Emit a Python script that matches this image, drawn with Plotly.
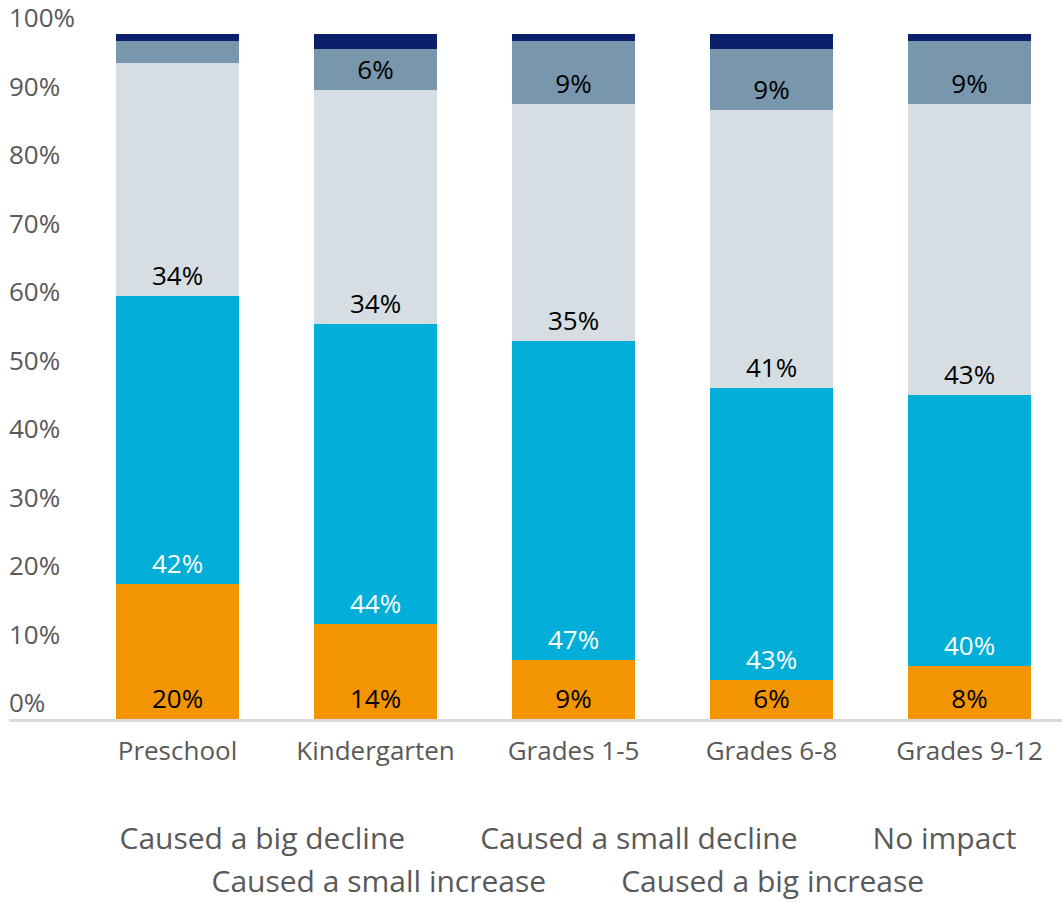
import math
import plotly.graph_objects as go

# Share of respondents by school level (percent, stacked to 100)
levels = ["Preschool", "Kindergarten", "Grades 1-5", "Grades 6-8", "Grades 9-12"]
big_decline = [19.7, 13.9, 8.6, 5.7, 7.7]
small_decline = [42.0, 43.8, 46.6, 42.6, 39.6]
no_impact = [34.1, 34.1, 34.6, 40.6, 42.5]
small_increase = [3.2, 6.0, 9.2, 8.9, 9.2]
big_increase = [1.0, 2.2, 1.0, 2.2, 1.0]

y_ticks = [0, 10, 20, 30, 40, 50, 60, 70, 80, 90, 100]

FONT = "Open Sans"
LABEL_SIZE = 26


def pct(v, min_show=0.0):
    return f"{math.floor(v + 0.5)}%" if v >= min_show else ""


series = [
    ("Caused a big decline", big_decline, "#F29500", "#000000", 0, "legend"),
    ("Caused a small decline", small_decline, "#00AED8", "#FFFFFF", 0, "legend"),
    ("No impact", no_impact, "#D6DEE4", "#000000", 0, "legend"),
    ("Caused a small increase", small_increase, "#7896AC", "#000000", 5, "legend2"),
    ("Caused a big increase", big_increase, "#0B1F6B", "#000000", 101, "legend2"),
]

fig = go.Figure()
for name, vals, color, tcolor, min_show, leg in series:
    fig.add_trace(go.Bar(
        x=levels, y=vals, name=name, showlegend=False,
        marker=dict(color=color, line=dict(width=0)),
        width=0.62,
        text=[pct(v, min_show) for v in vals],
        textposition="inside", insidetextanchor="start",
        textangle=0, constraintext="none",
        insidetextfont=dict(family=FONT, size=LABEL_SIZE, color=tcolor),
        hoverinfo="skip",
    ))

# Text-only legend entries (no colour keys), in two centred rows
for name, vals, color, tcolor, min_show, leg in series:
    fig.add_trace(go.Scatter(
        x=[None], y=[None], mode="lines", name=name, legend=leg,
        line=dict(width=0, color="rgba(0,0,0,0)"), showlegend=True,
    ))

legend_common = dict(
    orientation="h", x=0.5, xanchor="center", yanchor="top",
    traceorder="normal",
    font=dict(family=FONT, size=30, color="#595959"),
    itemwidth=60, bgcolor="rgba(0,0,0,0)",
)

fig.update_layout(
    barmode="stack",
    width=1062, height=924,
    margin=dict(l=9, r=0, t=34, b=205),
    paper_bgcolor="white", plot_bgcolor="white",
    font=dict(family=FONT, color="#595959"),
    uniformtext=dict(minsize=LABEL_SIZE, mode="show"),
    xaxis=dict(
        type="category", range=[-0.851, 4.467],
        showline=True, linecolor="#D9D9D9", linewidth=3,
        showgrid=False, ticks="", zeroline=False,
        tickfont=dict(family=FONT, size=LABEL_SIZE, color="#595959"),
        ticklabelstandoff=7,
    ),
    yaxis=dict(
        range=[0, 100], tickvals=y_ticks,
        ticktext=[f"{t}%" for t in y_ticks],
        ticklabelposition="inside", ticklabelshift=-16,
        ticklabeloverflow="allow", ticklabelstandoff=-3,
        showgrid=False, zeroline=False, showline=False, ticks="",
        tickfont=dict(family=FONT, size=LABEL_SIZE, color="#595959"),
    ),
    legend=dict(legend_common, y=-0.135),
    legend2=dict(legend_common, y=-0.197),
)

fig.write_html("out.html")
